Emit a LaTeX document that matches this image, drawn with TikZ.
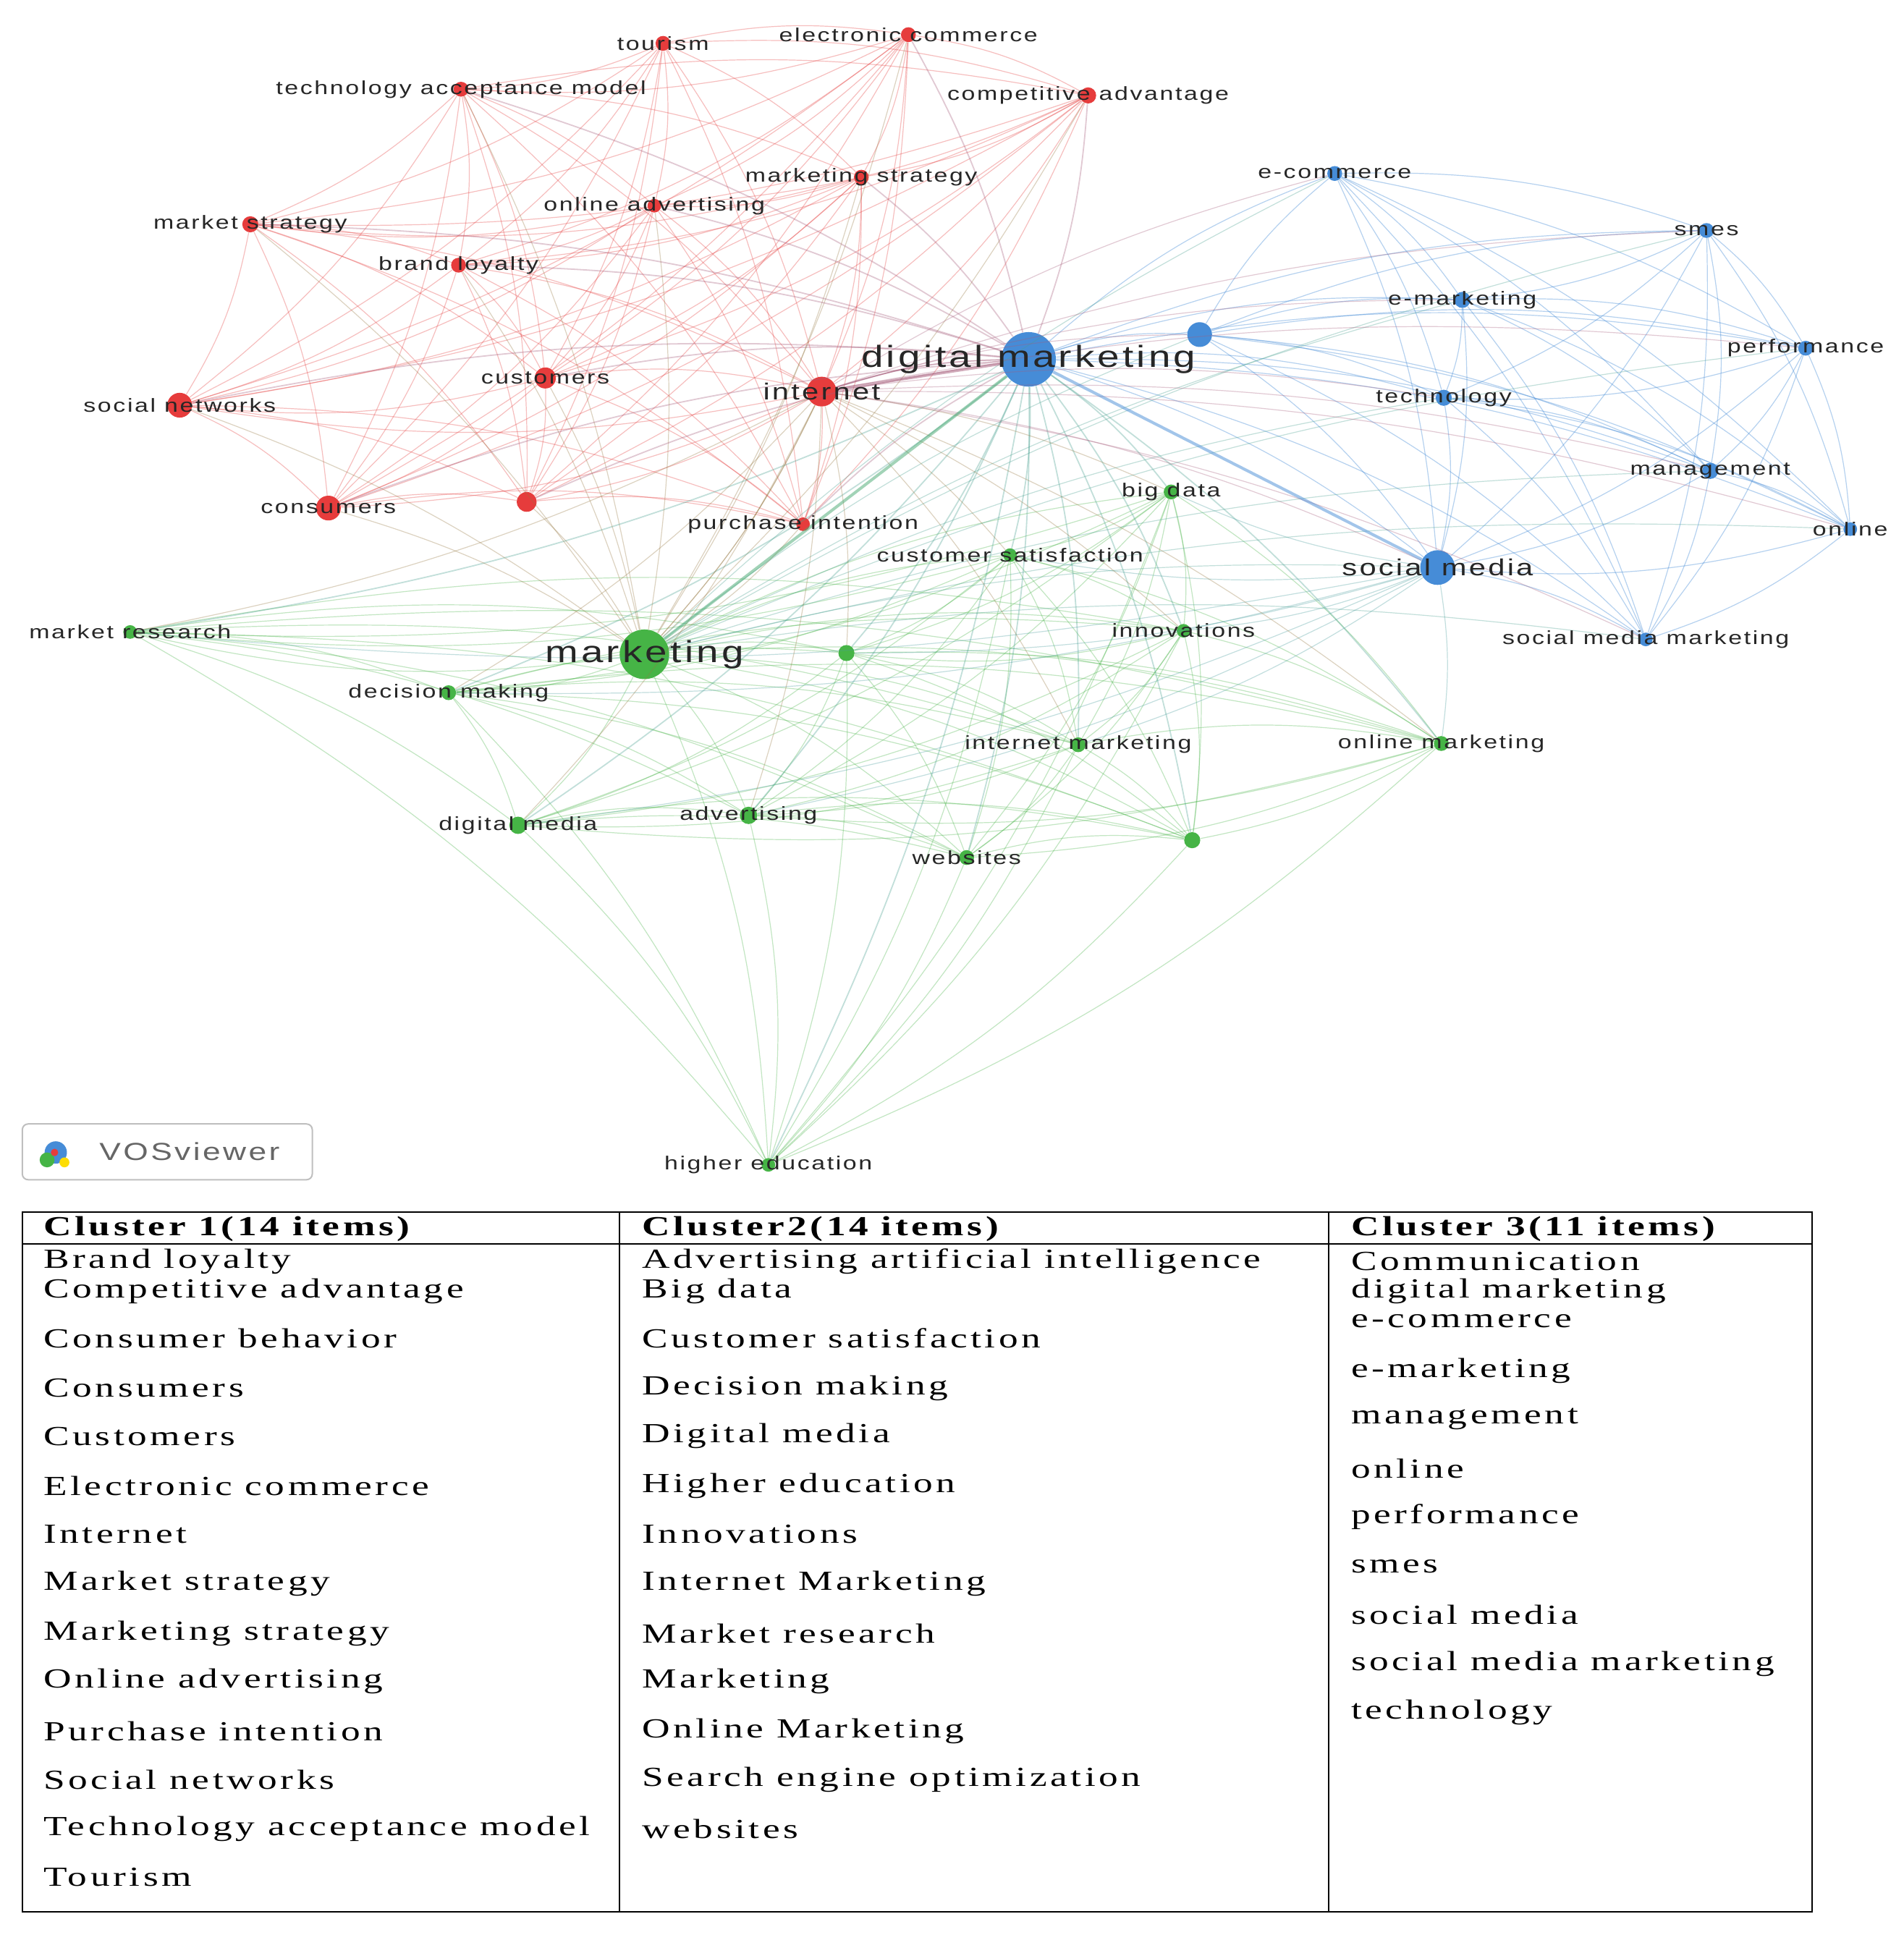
\documentclass[tikz,border=0pt]{standalone}
\usepackage{fontspec}
\setmainfont{Liberation Serif}[FakeStretch=1.4,LetterSpace=12]
\newfontfamily\lab{Liberation Sans}[FakeStretch=1.3,LetterSpace=10]
\begin{document}
\begin{tikzpicture}[x=0.3mm,y=-0.3mm]
\definecolor{vr}{RGB}{230,60,60}\definecolor{vb}{RGB}{70,140,215}\definecolor{vg}{RGB}{70,180,70}
\tikzset{kn/.style={circle,inner sep=0pt,draw=none},
 lb/.style={font=\lab\fontsize{13}{14}\selectfont,text=black!85,inner sep=0pt},
 tb/.style={anchor=west,font=\fontsize{19}{20}\selectfont,inner sep=0pt},
 th/.style={anchor=west,font=\bfseries\fontsize{19}{20}\selectfont,inner sep=0pt},
 ed/.style={line width=0.6pt,opacity=0.33}}
\useasboundingbox (0,0) rectangle (1536,1572);
\fill[white] (0,0) rectangle (1536,1572);
\foreach \n/\x/\y/\s/\c in {r1/535/35/12/vr,r2/733/28/12/vr,r3/372/72/12/vr,r4/878/77/13/vr,r5/695/143/12/vr,r6/528/166/11/vr,r7/202/181/13/vr,r8/370/214/12/vr,r9/440/305/17/vr,r10/663/316/24/vr,r11/145/327/20/vr,r12/265/410/20/vr,r13/425/405/16/vr,r14/648/423/11/vr,
b1/830/290/44/vb,b2/968/270/20/vb,b3/1077/140/12/vb,b4/1377/186/12/vb,b5/1180/242/13/vb,b6/1457/281/12/vb,b7/1165/321/13/vb,b8/1380/380/13/vb,b9/1493/427/11/vb,b10/1160/458/28/vb,b11/1328/516/11/vb,
g1/520/528/40/vg,g2/945/397/12/vg,g3/815/448/11/vg,g4/105/510/11/vg,g5/362/559/12/vg,g6/955/509/11/vg,g7/683/527/13/vg,g8/870/601/12/vg,g9/1163/600/12/vg,g10/418/666/14/vg,g11/604/658/14/vg,g12/780/692/12/vg,g13/962/678/13/vg,g14/620/940/11/vg}
 {\node[kn,fill=\c,minimum size=\s*0.3mm] (\n) at (\x,\y) {};}
\begin{scope}[on background layer/.style={}]
\foreach \i in {1,...,14}{\foreach \j in {1,...,14}{\ifnum\j>\i
 \draw[ed,vr] (r\i) to[bend left=10] (r\j);
 \draw[ed,vg] (g\i) to[bend left=10] (g\j);\fi}}
\foreach \i in {1,...,11}{\foreach \j in {1,...,11}{\ifnum\j>\i
 \draw[ed,vb,opacity=0.4] (b\i) to[bend left=10] (b\j);\fi}}
\foreach \i in {2,...,14}{\draw[ed,vr!60!vb,line width=0.9pt] (b1) to[bend right=8] (r\i);
 \draw[ed,vb!50!vg,line width=0.9pt] (b1) to[bend left=8] (g\i);
 \draw[ed,vr!50!vg] (g1) to[bend right=8] (r\i);}
\foreach \i in {2,...,11}{\draw[ed,vb!50!vg] (g1) to[bend left=8] (b\i);
 \draw[ed,vb!60!vg] (b10) to[bend left=8] (g\i);}
\foreach \i in {1,...,11}{\draw[ed,vr!50!vg] (r10) to[bend left=8] (g\i);
 \draw[ed,vr!60!vb] (r10) to[bend left=8] (b\i);}
\draw[vb,line width=2pt,opacity=0.5] (b1) -- (b10);
\draw[vg!70!vb,line width=2pt,opacity=0.5] (b1) -- (g1);
\draw[vr!60!vb,line width=2pt,opacity=0.5] (b1) -- (r10);
\end{scope}
\foreach \n/\t in {r1/tourism,r2/electronic commerce,r3/technology acceptance model,r4/competitive advantage,r5/marketing strategy,r6/online advertising,r7/market strategy,r8/brand loyalty,r9/customers,r11/social networks,r12/consumers,r14/purchase intention,
b3/e-commerce,b4/smes,b5/e-marketing,b6/performance,b7/technology,b8/management,b9/online,b11/social media marketing,
g2/big data,g3/customer satisfaction,g4/market research,g5/decision making,g6/innovations,g8/internet marketing,g9/online marketing,g10/digital media,g11/advertising,g12/websites,g14/higher education}
 {\node[lb] at (\n) {\t};}
\node[lb,font=\lab\fontsize{16}{17}\selectfont] at (r10) {internet};
\node[lb,font=\lab\fontsize{21}{22}\selectfont] at (b1) {digital marketing};
\node[lb,font=\lab\fontsize{16}{17}\selectfont] at (b10) {social media};
\node[lb,font=\lab\fontsize{21}{22}\selectfont] at (g1) {marketing};
\draw[black!25,rounded corners=4pt,line width=1pt] (18,907) rectangle (252,952);
\fill[vb] (45,930) circle (9);\fill[vg] (38,936) circle (6);\fill[vr] (44,930) circle (3);\fill[yellow!80!orange] (52,938) circle (4);
\node[anchor=west,font=\lab\fontsize{17}{18}\selectfont,text=black!60,inner sep=0] at (80,929) {VOSviewer};
\draw[line width=1pt] (18,978) rectangle (1462,1543);
\draw[line width=1pt] (500,978) -- (500,1543) (1072,978) -- (1072,1543) (18,1004) -- (1462,1004);
\node[th] at (35,992) {Cluster 1(14 items)};
\node[th] at (518,992) {Cluster2(14 items)};
\node[th] at (1090,992) {Cluster 3(11 items)};
\foreach \y/\t in {1018/Brand loyalty,1042/Competitive advantage,1080/Consumer behavior,1120/Consumers,1159/Customers,1199/Electronic commerce,1238/Internet,1278/Market strategy,1318/Marketing strategy,1357/Online advertising,1397/Purchase intention,1436/Social networks,1476/Technology acceptance model,1515/Tourism}
 \node[tb] at (35,\y) {\t};
\foreach \y/\t in {1018/Advertising artificial intelligence,1042/Big data,1080/Customer satisfaction,1120/Decision making,1159/Digital media,1199/Higher education,1238/Innovations,1278/Internet Marketing,1318/Market research,1357/Marketing,1397/Online Marketing,1436/Search engine optimization,1476/websites}
 \node[tb] at (518,\y) {\t};
\foreach \y/\t in {1018/Communication,1042/digital marketing,1066/e-commerce,1106/e-marketing,1145/management,1185/online,1224/performance,1264/smes,1303/social media,1343/social media marketing,1382/technology}
 \node[tb] at (1090,\y) {\t};
\end{tikzpicture}
\end{document}
